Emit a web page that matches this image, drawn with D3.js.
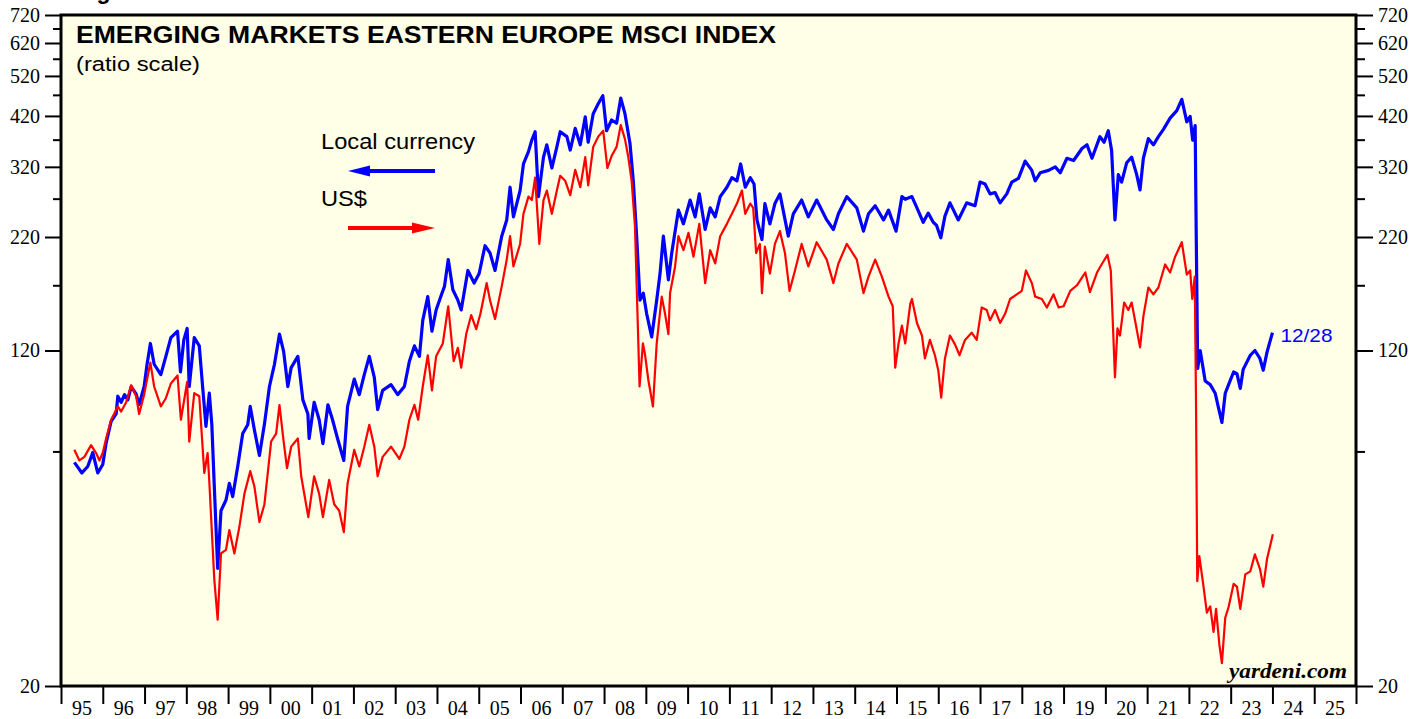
<!DOCTYPE html>
<html>
<head>
<meta charset="utf-8">
<script src="https://d3js.org/d3.v7.min.js"></script>
<style>
  body { margin: 0; background: #fff; }
  svg { display: block; }
  .axis text { font-family: 'Liberation Serif', 'Times New Roman', serif; font-size: 20px; fill: #000; }
  .axis line { stroke: #000; stroke-width: 2; }
  .axis path { display: none; }
  .sans { font-family: 'Liberation Sans', Arial, sans-serif; }
</style>
</head>
<body>
<svg width="1427" height="719"></svg>
<script>
// MSCI Emerging Markets Eastern Europe as [year, index]
var localCurrency = [
  [1995.32,66],[1995.50,62.4],[1995.64,64.6],[1995.76,69.6],[1995.88,62.4],[1996.00,65.3],[1996.08,73.2],[1996.20,82.2],
  [1996.32,85.6],[1996.36,94],[1996.44,91],[1996.52,94.8],[1996.60,92.2],[1996.68,99],[1996.80,95],[1996.87,89.9],
  [1996.99,99],[1997.06,111.5],[1997.14,124.6],[1997.23,111.5],[1997.39,105.5],[1997.51,116.3],[1997.63,128.5],[1997.79,133],
  [1997.86,107],[1997.94,127],[1998.02,135],[1998.07,99],[1998.19,128.5],[1998.31,123],[1998.39,99],[1998.47,80],
  [1998.55,95.6],[1998.61,81],[1998.67,58],[1998.75,37.5],[1998.83,51],[1998.95,54],[1999.03,59],[1999.11,55],
  [1999.23,64.6],[1999.35,77],[1999.47,80.7],[1999.53,89],[1999.63,78.5],[1999.75,68.5],[1999.87,81],[1999.99,99],
  [2000.11,111.5],[2000.23,131],[2000.33,119.3],[2000.43,99],[2000.51,109.5],[2000.67,116.3],[2000.79,92.2],[2000.91,85.5],
  [2000.94,75],[2001.06,91],[2001.18,82.9],[2001.27,73],[2001.39,89.8],[2001.50,82.9],[2001.62,75],[2001.77,66.7],
  [2001.86,89],[2002.02,103],[2002.14,94.8],[2002.26,105.5],[2002.38,116.3],[2002.50,104],[2002.58,87.5],[2002.70,97],
  [2002.90,100],[2003.06,94.8],[2003.22,99],[2003.34,113.3],[2003.46,123],[2003.58,116.3],[2003.66,141],[2003.78,160],
  [2003.88,133],[2003.98,149],[2004.10,161],[2004.18,169],[2004.27,195],[2004.38,166],[2004.50,157],[2004.58,149],
  [2004.74,184],[2004.89,172],[2005.01,181],[2005.15,210],[2005.27,202],[2005.39,184],[2005.55,221],[2005.67,241],
  [2005.75,287],[2005.83,245],[2005.99,282],[2006.07,325],[2006.19,347],[2006.27,369],[2006.35,386],[2006.43,273],
  [2006.55,337],[2006.63,360],[2006.75,318],[2006.87,356],[2006.95,386],[2007.11,376],[2007.19,350],[2007.31,393],
  [2007.43,360],[2007.55,418],[2007.62,365],[2007.74,425],[2007.86,448],[2007.97,468],[2008.06,388],[2008.18,411],
  [2008.30,404],[2008.40,462],[2008.50,425],[2008.62,363],[2008.70,297],[2008.78,221],[2008.86,157],[2008.94,163],
  [2009.02,146],[2009.14,129],[2009.26,157],[2009.34,181],[2009.42,221],[2009.54,175],[2009.62,202],[2009.78,254],
  [2009.90,236],[2010.06,268],[2010.18,245],[2010.28,277],[2010.42,229],[2010.54,257],[2010.66,245],[2010.78,273],
  [2010.94,287],[2011.06,302],[2011.18,297],[2011.27,325],[2011.38,287],[2011.50,302],[2011.59,292],[2011.66,241],
  [2011.78,217],[2011.85,263],[2011.97,236],[2012.09,263],[2012.21,277],[2012.41,221],[2012.53,249],[2012.73,268],
  [2012.89,245],[2013.09,268],[2013.33,241],[2013.49,229],[2013.61,249],[2013.81,273],[2014.05,257],[2014.21,227],
  [2014.33,249],[2014.49,260],[2014.69,241],[2014.81,254],[2014.99,227],[2015.13,273],[2015.21,269],[2015.37,273],
  [2015.49,257],[2015.64,238],[2015.76,250],[2015.88,238],[2015.96,234],[2016.06,219],[2016.16,246],[2016.28,264],
  [2016.48,241],[2016.68,264],[2016.88,260],[2017.00,295],[2017.12,292],[2017.24,277],[2017.36,279],[2017.48,264],
  [2017.64,277],[2017.76,295],[2017.92,301],[2018.08,330],[2018.24,314],[2018.32,297],[2018.44,310],[2018.64,314],
  [2018.80,320],[2018.92,310],[2019.08,335],[2019.24,331],[2019.44,353],[2019.56,360],[2019.68,335],[2019.87,376],
  [2019.97,365],[2020.07,388],[2020.15,349],[2020.23,241],[2020.31,307],[2020.39,295],[2020.51,327],[2020.63,337],
  [2020.75,307],[2020.83,283],[2020.91,335],[2021.03,372],[2021.15,360],[2021.27,376],[2021.39,391],[2021.55,415],
  [2021.71,432],[2021.83,459],[2021.95,407],[2022.03,419],[2022.09,369],[2022.15,399],[2022.17,250],[2022.21,109],
  [2022.27,120],[2022.39,102],[2022.51,100],[2022.63,95.5],[2022.71,88.2],[2022.79,81.7],[2022.87,95.5],[2022.95,100],
  [2023.07,107],[2023.15,106],[2023.23,98],[2023.30,108.5],[2023.47,117],[2023.58,120],[2023.70,115],[2023.78,108],
  [2023.87,119],[2024.00,132]
];

var usDollar = [
  [1995.32,70.6],[1995.44,66.7],[1995.56,68],[1995.72,72.4],[1995.84,69.4],[1995.92,66.7],[1996.00,69.5],[1996.08,75],
  [1996.20,82.9],[1996.36,89],[1996.44,86.6],[1996.56,91],[1996.68,99.7],[1996.80,94],[1996.87,85.5],[1996.99,94.8],
  [1997.14,112.5],[1997.23,99],[1997.39,89],[1997.51,93],[1997.63,100.6],[1997.79,105],[1997.87,82.9],[1998.02,101.5],
  [1998.07,73.8],[1998.19,95.6],[1998.31,94],[1998.43,62.4],[1998.51,69.4],[1998.55,59.6],[1998.67,35.3],[1998.75,28.5],
  [1998.83,40.6],[1998.95,41.4],[1999.03,46],[1999.15,40.6],[1999.27,46.8],[1999.39,55.8],[1999.53,63],[1999.63,58],
  [1999.75,48],[1999.87,52.8],[2000.03,73.8],[2000.15,77],[2000.23,89.7],[2000.33,73.8],[2000.41,64],[2000.51,71.8],
  [2000.67,75],[2000.75,61.3],[2000.92,49.3],[2001.06,61.3],[2001.18,55.8],[2001.27,49.3],[2001.42,60.1],[2001.54,52.8],
  [2001.66,51],[2001.77,45.5],[2001.86,59],[2002.02,70.6],[2002.14,64.6],[2002.26,71.8],[2002.38,80.7],[2002.50,71.8],
  [2002.58,61.3],[2002.70,68],[2002.90,71.8],[2003.10,67.3],[2003.22,71.8],[2003.34,82.9],[2003.46,89.8],[2003.55,82.9],
  [2003.66,99],[2003.78,117],[2003.88,97],[2003.98,116.3],[2004.14,124.6],[2004.27,152],[2004.40,113.3],[2004.50,121.7],
  [2004.58,109.5],[2004.70,131],[2004.82,145],[2004.94,134.5],[2005.04,146],[2005.19,172],[2005.27,157],[2005.39,142],
  [2005.55,169],[2005.67,195],[2005.75,221],[2005.83,188],[2005.99,212],[2006.07,249],[2006.19,273],[2006.27,268],
  [2006.35,302],[2006.45,212],[2006.55,268],[2006.63,282],[2006.75,249],[2006.87,282],[2006.95,305],[2007.07,297],
  [2007.19,275],[2007.31,315],[2007.43,287],[2007.55,337],[2007.62,290],[2007.74,356],[2007.86,376],[2007.98,388],
  [2008.08,318],[2008.18,339],[2008.30,356],[2008.40,400],[2008.50,371],[2008.58,337],[2008.66,297],[2008.74,233],
  [2008.80,146],[2008.85,99],[2008.93,124.6],[2008.98,117.5],[2009.06,102.5],[2009.17,89],[2009.26,124.6],[2009.38,160],
  [2009.46,146],[2009.54,131],[2009.58,163],[2009.70,188],[2009.78,221],[2009.90,205],[2010.02,225],[2010.14,198],
  [2010.28,236],[2010.42,172],[2010.54,205],[2010.66,191],[2010.78,221],[2010.94,236],[2011.06,249],[2011.18,263],
  [2011.30,282],[2011.38,249],[2011.50,263],[2011.57,257],[2011.64,202],[2011.73,212],[2011.78,163],[2011.85,209],
  [2011.97,181],[2012.09,212],[2012.21,227],[2012.33,202],[2012.44,165],[2012.57,184],[2012.73,212],[2012.89,188],
  [2013.09,214],[2013.33,195],[2013.49,172],[2013.61,191],[2013.81,212],[2014.05,195],[2014.21,163],[2014.33,178],
  [2014.49,195],[2014.65,178],[2014.81,160],[2014.91,152],[2014.97,109.5],[2015.05,124.6],[2015.13,137],[2015.21,124.6],
  [2015.33,154],[2015.37,158],[2015.49,139],[2015.61,130],[2015.68,115],[2015.80,127],[2015.92,117],[2016.00,108],
  [2016.07,93.3],[2016.16,115],[2016.28,130],[2016.40,124],[2016.51,117],[2016.64,127],[2016.80,132],[2016.92,127],
  [2017.04,151],[2017.16,149],[2017.24,141],[2017.36,149],[2017.48,139],[2017.60,146],[2017.72,158],[2017.88,162],
  [2018.00,165],[2018.10,184],[2018.24,172],[2018.32,160],[2018.48,158],[2018.60,151],[2018.76,162],[2018.88,151],
  [2019.00,152],[2019.16,165],[2019.32,170],[2019.44,177],[2019.52,182],[2019.63,164],[2019.80,182],[2019.91,190],
  [2020.05,200],[2020.13,184],[2020.23,104],[2020.29,135],[2020.35,130],[2020.45,155],[2020.55,149],[2020.63,155],
  [2020.71,141],[2020.83,122],[2020.91,144],[2021.03,168],[2021.15,162],[2021.27,168],[2021.43,190],[2021.55,182],
  [2021.67,198],[2021.83,214],[2021.95,180],[2022.03,184],[2022.08,158],[2022.14,178],[2022.17,92],[2022.20,35],
  [2022.25,40],[2022.35,34],[2022.43,29.6],[2022.51,30.6],[2022.59,26.7],[2022.65,30.2],[2022.73,24.9],[2022.79,22.6],
  [2022.87,28.8],[2022.95,30.5],[2023.07,34.5],[2023.15,34],[2023.23,30.2],[2023.35,36.3],[2023.47,36.9],[2023.58,40.4],
  [2023.70,37.4],[2023.78,34],[2023.87,39.4],[2024.01,45]
];

var yMajorTicks = [20, 120, 220, 320, 420, 520, 620, 720];
var yMinorTicks = [70, 170, 270, 370, 470, 570, 670];
var yearTicks = d3.range(1995, 2027);
var yearLabels = ["95","96","97","98","99","00","01","02","03","04","05","06","07","08","09","10",
                  "11","12","13","14","15","16","17","18","19","20","21","22","23","24","25"];
var lastDateLabel = "12/28";

var svg = d3.select("svg");
var plotLeft = 61, plotRight = 1356, plotTop = 15, plotBottom = 686;

var x = d3.scaleLinear().domain([1995, 2026]).range([plotLeft, plotRight]);
var y = d3.scaleLog().domain([20, 720]).range([plotBottom, plotTop]);

svg.append("rect")
    .attr("x", plotLeft).attr("y", plotTop)
    .attr("width", plotRight - plotLeft).attr("height", plotBottom - plotTop)
    .attr("fill", "#fffee6");

svg.append("clipPath").attr("id", "plot-clip")
  .append("rect")
    .attr("x", plotLeft).attr("y", plotTop)
    .attr("width", plotRight - plotLeft).attr("height", plotBottom - plotTop);

// heading of the page, cut off above the chart
svg.append("text").attr("class", "sans")
    .attr("x", 76).attr("y", -1)
    .attr("font-size", 23).attr("font-weight", "bold")
    .text("Figure 1.");

svg.append("text").attr("class", "sans")
    .attr("x", 76).attr("y", 43)
    .attr("font-size", 23).attr("font-weight", "bold")
    .attr("textLength", 700).attr("lengthAdjust", "spacingAndGlyphs")
    .text("EMERGING MARKETS EASTERN EUROPE MSCI INDEX");

svg.append("text").attr("class", "sans")
    .attr("x", 76).attr("y", 71)
    .attr("font-size", 20)
    .attr("textLength", 124).attr("lengthAdjust", "spacingAndGlyphs")
    .text("(ratio scale)");

var line = d3.line()
    .x(function(d) { return x(d[0]); })
    .y(function(d) { return y(d[1]); });

var lines = svg.append("g").attr("clip-path", "url(#plot-clip)");

lines.append("path")
    .datum(localCurrency)
    .attr("fill", "none")
    .attr("stroke", "#0000ff")
    .attr("stroke-width", 3.2)
    .attr("stroke-linejoin", "round")
    .attr("d", line);

lines.append("path")
    .datum(usDollar)
    .attr("fill", "none")
    .attr("stroke", "#ff0000")
    .attr("stroke-width", 2.2)
    .attr("stroke-linejoin", "round")
    .attr("d", line);

// legend
svg.append("text").attr("class", "sans")
    .attr("x", 321).attr("y", 149)
    .attr("font-size", 22)
    .attr("textLength", 154).attr("lengthAdjust", "spacingAndGlyphs")
    .text("Local currency");

svg.append("line")
    .attr("x1", 366).attr("x2", 435).attr("y1", 171).attr("y2", 171)
    .attr("stroke", "#0000ff").attr("stroke-width", 4);
svg.append("path")
    .attr("d", "M348,171 L370,165.5 L370,176.5 Z")
    .attr("fill", "#0000ff");

svg.append("text").attr("class", "sans")
    .attr("x", 321).attr("y", 206)
    .attr("font-size", 22)
    .attr("textLength", 46).attr("lengthAdjust", "spacingAndGlyphs")
    .text("US$");

svg.append("line")
    .attr("x1", 348).attr("x2", 416).attr("y1", 228).attr("y2", 228)
    .attr("stroke", "#ff0000").attr("stroke-width", 4);
svg.append("path")
    .attr("d", "M435,228 L412,222.5 L412,233.5 Z")
    .attr("fill", "#ff0000");

var last = localCurrency[localCurrency.length - 1];
svg.append("text").attr("class", "sans")
    .attr("x", x(last[0]) + 8).attr("y", y(last[1]) + 9)
    .attr("font-size", 19).attr("fill", "#0000ff")
    .attr("textLength", 52).attr("lengthAdjust", "spacingAndGlyphs")
    .text(lastDateLabel);

svg.append("text")
    .attr("x", 1347).attr("y", 678)
    .attr("text-anchor", "end")
    .attr("font-family", "'Liberation Serif', 'Times New Roman', serif")
    .attr("font-size", 21).attr("font-weight", "bold").attr("font-style", "italic")
    .attr("textLength", 118).attr("lengthAdjust", "spacingAndGlyphs")
    .text("yardeni.com");

// axes
svg.append("g").attr("class", "axis")
    .attr("transform", "translate(" + plotLeft + ",0)")
    .call(d3.axisLeft(y).tickValues(yMajorTicks).tickFormat(d3.format("d")).tickSize(16).tickPadding(5));
svg.append("g").attr("class", "axis")
    .attr("transform", "translate(" + plotLeft + ",0)")
    .call(d3.axisLeft(y).tickValues(yMinorTicks).tickFormat("").tickSize(8));

svg.append("g").attr("class", "axis")
    .attr("transform", "translate(" + plotRight + ",0)")
    .call(d3.axisRight(y).tickValues(yMajorTicks).tickFormat(d3.format("d")).tickSize(17).tickPadding(5));
svg.append("g").attr("class", "axis")
    .attr("transform", "translate(" + plotRight + ",0)")
    .call(d3.axisRight(y).tickValues(yMinorTicks).tickFormat("").tickSize(9));

var xAxis = svg.append("g").attr("class", "axis")
    .attr("transform", "translate(0," + plotBottom + ")")
    .call(d3.axisBottom(x).tickValues(yearTicks).tickFormat("").tickSize(18));
xAxis.selectAll("line").attr("stroke-width", 2.5);

svg.append("g").attr("class", "axis")
  .selectAll("text")
  .data(yearLabels)
  .enter().append("text")
    .attr("x", function(d, i) { return x(1995 + i + 0.5); })
    .attr("y", 715)
    .attr("text-anchor", "middle")
    .text(function(d) { return d; });

// frame
svg.append("rect")
    .attr("x", plotLeft).attr("y", plotTop)
    .attr("width", plotRight - plotLeft).attr("height", plotBottom - plotTop)
    .attr("fill", "none")
    .attr("stroke", "#000")
    .attr("stroke-width", 3);
</script>
</body>
</html>
